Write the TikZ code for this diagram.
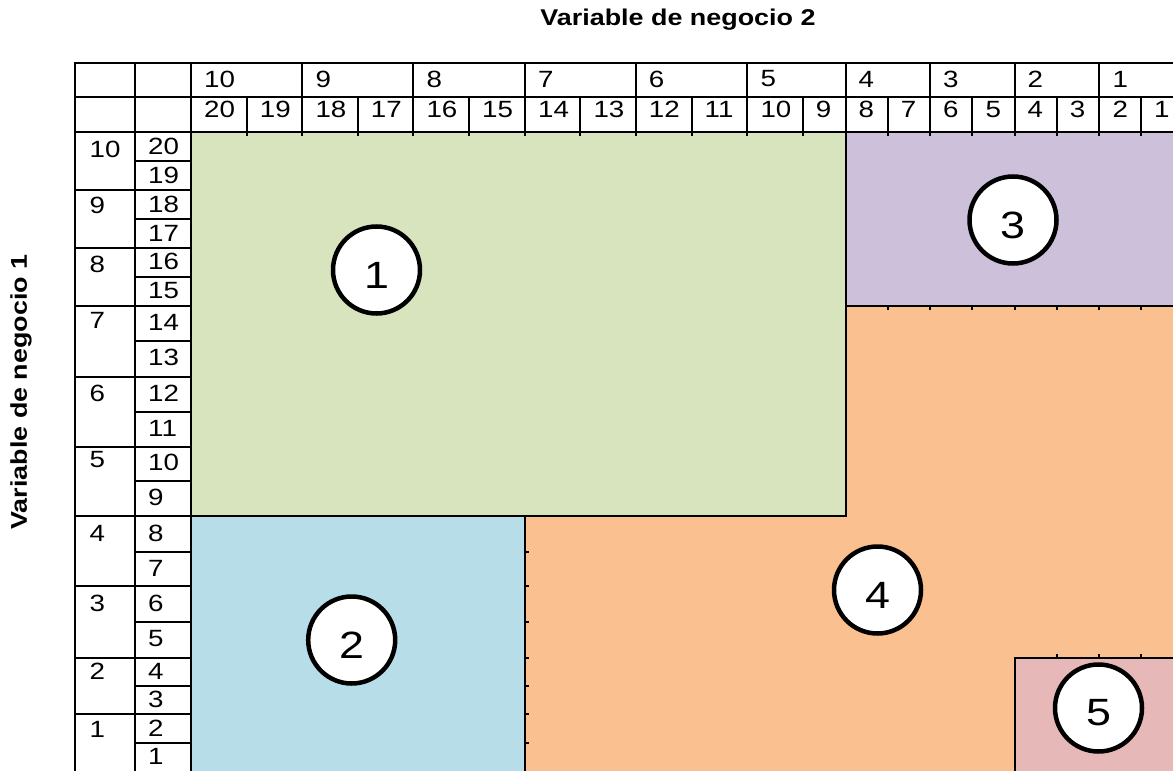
\documentclass[tikz,border=0pt]{standalone}
\usepackage{fontspec}
\setmainfont[FakeStretch=1.18]{Liberation Sans}

\definecolor{verde}{HTML}{D7E4BD}
\definecolor{lila}{HTML}{CCC0DA}
\definecolor{celeste}{HTML}{B7DEE8}
\definecolor{naranja}{HTML}{FAC090}
\definecolor{rosa}{HTML}{E6B9B8}

\tikzset{
  linea/.style={line width=2pt, line cap=rect},
  celda/.style={anchor=west, inner sep=0pt, font=\fontsize{23.5}{23.5}\selectfont},
  titulo/.style={inner sep=0pt, font=\fontsize{22.8}{22.8}\selectfont\bfseries},
  zona/.style={circle, draw, fill=white, line width=4.5pt, minimum size=87pt, inner sep=0pt},
  cifra/.style={inner sep=0pt, font=\fontsize{38}{38}\selectfont}
}

\begin{document}
\begin{tikzpicture}[x=1pt, y=-1pt]

\useasboundingbox
(0,0)
rectangle
(1173,771);

% Zonas
\fill[naranja]
(525,305.7)
rectangle
(1183,772);

\fill[verde]
(191,132)
rectangle
(845.5,516);

\fill[lila]
(845.5,132)
rectangle
(1183,305.7);

\fill[celeste]
(191,516)
rectangle
(525,772);

\fill[rosa]
(1014.5,657.7)
rectangle
(1183,772);

% Rejilla
\draw[linea]
(75,63) -- (1183,63)
(75,97) -- (1183,97)
(75,132) -- (1183,132)
(75,63) -- (75,772)
(135,63) -- (135,772)
(191,63) -- (191,772);

\foreach \x in {302.3,413.3,525,635.7,747.3,845.5,930,1014.5,1099.3}
  \draw[linea]
  (\x,63)
  --
  (\x,135);

\foreach \x in {246.7,357.7,469,580.3,691.5,802.7,887.7,972.3,1056.7,1141}
  \draw[linea]
  (\x,97)
  --
  (\x,135);

\foreach \y in {190,248,305.7,376.7,446.7,586,657.7,714.3}
  \draw[linea]
  (75,\y)
  --
  (191,\y);

\foreach \y in {161,219,276.7,341,411.7,481,551.7,621.7,686,743.3}
  \draw[linea]
  (135,\y)
  --
  (191,\y);

% Bordes de las zonas
\draw[linea]
(75,516)
--
(845.5,516)
--
(845.5,132);

\draw[linea]
(845.5,305.7)
--
(1183,305.7);

\draw[linea]
(525,516)
--
(525,772);

\draw[linea]
(1014.5,772)
|-
(1183,657.7);

% Marcas
\foreach \x in {887.7,930,972.3,1014.5,1056.7,1099.3,1141}
  \draw[linea]
  (\x,305.7)
  --
  (\x,308.5);

\foreach \y in {551.7,586,621.7,657.7,686,714.3,743.3}
  \draw[linea]
  (525,\y)
  --
  (528,\y);

\foreach \x in {1056.7,1099.3,1141}
  \draw[linea]
  (\x,657.7)
  --
  (\x,654.7);

% Cabecera
\foreach \n/\x in {10/191,9/302.3,8/413.3,7/525,6/635.7,5/747.3,4/845.5,3/930,2/1014.5,1/1099.3}
  \node[celda]
  (cab1-\n)
  at (\x+13,79)
  {\n};

\foreach \n/\x in {20/191,19/246.7,18/302.3,17/357.7,16/413.3,15/469,14/525,13/580.3,12/635.7,11/691.5,10/747.3,9/802.7,8/845.5,7/887.7,6/930,5/972.3,4/1014.5,3/1056.7,2/1099.3,1/1141}
  \node[celda]
  (cab2-\n)
  at (\x+13,109.5)
  {\n};

% Lateral
\foreach \n/\y in {10/149,9/205.5,8/264,7/320,6/393,5/460,4/533,3/603,2/671.5,1/729}
  \node[celda]
  (lat1-\n)
  at (89.5,\y)
  {\n};

\foreach \n/\y in {20/146,19/175,18/204,17/233,16/261.5,15/290.5,14/322,13/357.5,12/393,11/428,10/462.5,9/497.5,8/533,7/568,6/603,5/638.5,4/671,3/699.5,2/728.5,1/756.5}
  \node[celda]
  (lat2-\n)
  at (148,\y)
  {\n};

% Titulos
\node[titulo]
(eje2)
at (678,20)
{Variable de negocio 2};

\node[titulo, rotate=90]
(eje1)
at (21,392)
{Variable de negocio 1};

% Circulos
\foreach \n/\x/\y in {1/376.5/270,2/351.7/640,3/1013/220,4/877.5/590,5/1098.5/708}
{
  \node[zona]
  (z\n)
  at (\x,\y)
  {};
  \node[cifra]
  (n\n)
  at ([yshift=-5pt]z\n.center)
  {\n};
}

\end{tikzpicture}
\end{document}
